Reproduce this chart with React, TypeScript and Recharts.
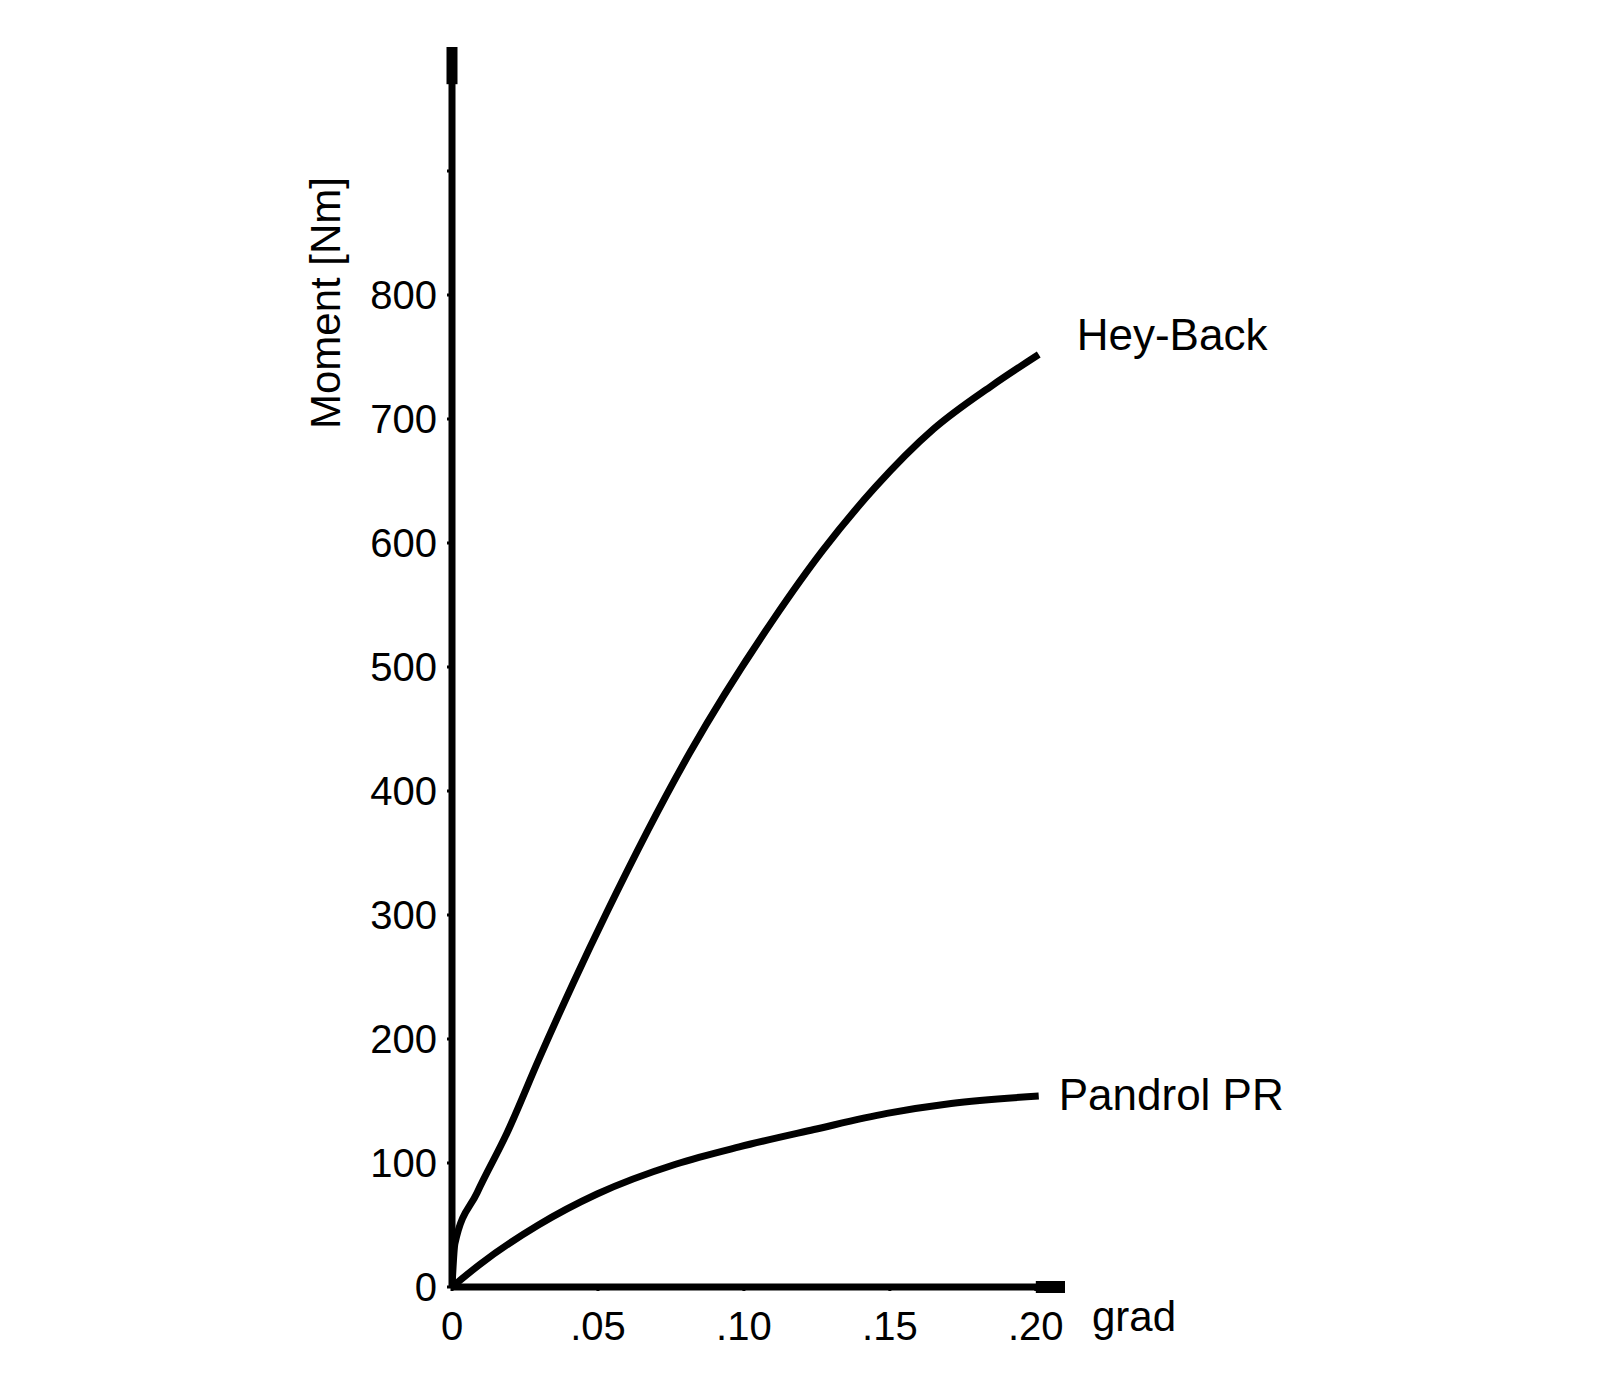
import React from 'react';
import { LineChart, Line, XAxis, YAxis, ReferenceLine, LabelList } from 'recharts';

const heyBackX = [0, 0.001, 0.0086, 0.0188, 0.03, 0.0415, 0.053, 0.0815, 0.11, 0.127, 0.145, 0.165, 0.185, 0.201];
const heyBackY = [0, 35, 76, 124, 185, 245, 302, 431, 538, 594, 645, 692, 727, 752];
const pandrolX = [0, 0.0094, 0.0296, 0.0497, 0.0766, 0.0984, 0.124, 0.149, 0.171, 0.201];
const pandrolY = [0, 18, 50, 75, 99, 113, 127, 140, 148, 154];
const xTicks = [0, 0.05, 0.1, 0.15, 0.2];
const xTickLabels = ['0', '.05', '.10', '.15', '.20'];
const yTicks = [0, 100, 200, 300, 400, 500, 600, 700, 800, 900];
const yLabeled = [0, 100, 200, 300, 400, 500, 600, 700, 800];
const seriesNames = ['Hey-Back', 'Pandrol PR'];

const heyBack = heyBackX.map((x, i) => ({ x, y: heyBackY[i] }));
const pandrol = pandrolX.map((x, i) => ({ x, y: pandrolY[i] }));

const FONT = '"Liberation Sans", Arial, sans-serif';

const endLabel = (name: string, last: number, dx: number, dy: number) => (props: any) => {
  if (props.index !== last) return null;
  return (
    <text x={props.x + dx} y={props.y + dy} fontSize={44} fontFamily={FONT} fill="#000">
      {name}
    </text>
  );
};

const GradLabel = (props: any) => {
  const vb = props.viewBox || {};
  return (
    <text x={vb.x + vb.width + 27} y={vb.y + 44} fontSize={42} fontFamily={FONT} fill="#000">
      grad
    </text>
  );
};

const MomentLabel = () => {
  const cx = 317;
  const cy = 295;
  return (
    <text
      x={cx}
      y={cy}
      transform={`rotate(-90 ${cx} ${cy})`}
      textAnchor="middle"
      dominantBaseline="central"
      fontSize={42}
      fontFamily={FONT}
      fill="#000"
    >
      Moment [Nm]
    </text>
  );
};

export default function App() {
  return (
    <div style={{ width: 1592, height: 1384, background: '#fff' }}>
      <LineChart width={1592} height={1384} margin={{ top: 39, right: 535, left: 0, bottom: 0 }}>
        <XAxis
          type="number"
          dataKey="x"
          domain={[0, 0.21]}
          ticks={xTicks}
          tickFormatter={(v: number) => xTickLabels[xTicks.indexOf(v)] ?? ''}
          height={105}
          axisLine={{ stroke: '#000', strokeWidth: 7 }}
          tickLine={{ stroke: '#000', strokeWidth: 3 }}
          tickSize={4}
          tickMargin={21}
          tick={{ fill: '#000', fontSize: 40, fontFamily: FONT }}
          allowDataOverflow
          label={<GradLabel />}
        />
        <YAxis
          type="number"
          domain={[0, 1000]}
          ticks={yTicks}
          tickFormatter={(v: number) => (yLabeled.includes(v) ? String(v) : '')}
          width={444}
          axisLine={{ stroke: '#000', strokeWidth: 7 }}
          tickLine={{ stroke: '#000', strokeWidth: 3 }}
          tickSize={5}
          tickMargin={10}
          tick={{ fill: '#000', fontSize: 40, fontFamily: FONT }}
          allowDataOverflow
          label={<MomentLabel />}
        />
        <ReferenceLine
          segment={[{ x: 0.2, y: 0 }, { x: 0.21, y: 0 }]}
          stroke="#000"
          strokeWidth={12}
          ifOverflow="visible"
        />
        <ReferenceLine
          segment={[{ x: 0, y: 970 }, { x: 0, y: 1000 }]}
          stroke="#000"
          strokeWidth={11}
          ifOverflow="visible"
        />
        <Line
          data={heyBack}
          dataKey="y"
          type="monotone"
          stroke="#000"
          strokeWidth={7}
          dot={false}
          isAnimationActive={false}
        >
          <LabelList dataKey="y" content={endLabel(seriesNames[0], heyBack.length - 1, 38, -5)} />
        </Line>
        <Line
          data={pandrol}
          dataKey="y"
          type="monotone"
          stroke="#000"
          strokeWidth={7}
          dot={false}
          isAnimationActive={false}
        >
          <LabelList dataKey="y" content={endLabel(seriesNames[1], pandrol.length - 1, 20, 14)} />
        </Line>
      </LineChart>
    </div>
  );
}
